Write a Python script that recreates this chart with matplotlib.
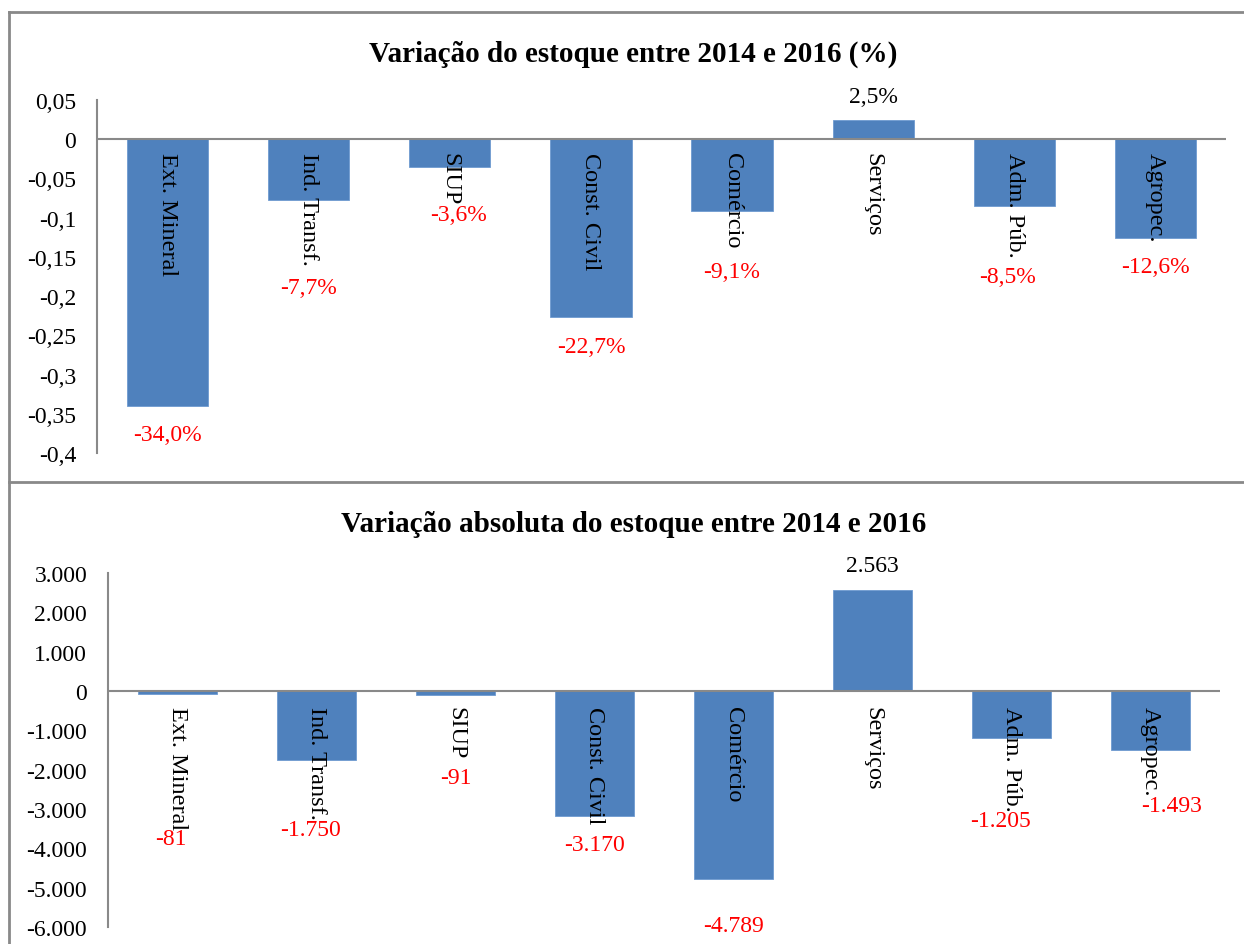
import matplotlib.pyplot as plt
from matplotlib.lines import Line2D

# categorias (setores)
setores = ['Ext. Mineral', 'Ind. Transf.', 'SIUP', 'Const. Civil',
           'Comércio', 'Serviços', 'Adm. Púb.', 'Agropec.']

# variação percentual do estoque 2014-2016
var_pct = [-0.340, -0.077, -0.036, -0.227, -0.091, 0.025, -0.085, -0.126]
rot_pct = ['-34,0%', '-7,7%', '-3,6%', '-22,7%', '-9,1%', '2,5%', '-8,5%', '-12,6%']

# variação absoluta do estoque 2014-2016
var_abs = [-81, -1750, -91, -3170, -4789, 2563, -1205, -1493]
rot_abs = ['-81', '-1.750', '-91', '-3.170', '-4.789', '2.563', '-1.205', '-1.493']

# posição dos rótulos (como no gráfico original, ajustados à mão)
pos_pct = [-0.376, -0.189, -0.096, -0.264, -0.168, 0.055, -0.175, -0.162]
dx_pct = [0.0, 0.0, 0.06, 0.0, 0.0, 0.0, -0.05, 0.0]
pos_abs = [-3740, -3520, -2190, -3900, -5960, 3180, -3300, -2920]
dx_abs = [-0.05, -0.04, 0.0, 0.0, 0.0, 0.0, -0.08, 0.15]

AZUL = '#4F81BD'
CINZA = '#898989'
plt.rcParams['font.family'] = 'Liberation Serif'

fig = plt.figure(figsize=(12.44, 9.45), dpi=100)

# molduras dos dois painéis
fig.add_artist(Line2D([9/1244, 9/1244], [0, 1 - 13/945], color=CINZA, lw=2))
fig.add_artist(Line2D([9/1244, 1], [1 - 13/945, 1 - 13/945], color=CINZA, lw=2))
fig.add_artist(Line2D([9/1244, 1], [1 - 483/945, 1 - 483/945], color=CINZA, lw=2))


def painel(rect, valores, rotulos, pos_rot, dx, ylim, ticks, ticklabels, titulo, y_titulo, gap):
    ax = fig.add_axes(rect)
    x = range(len(setores))
    ax.bar(x, valores, width=0.575, color=AZUL, edgecolor='#6f9bd0', linewidth=0.6, zorder=2)
    ax.axhline(0, color=CINZA, lw=1.5, zorder=3)
    ax.set_xlim(-0.5, len(setores) - 0.5)
    ax.set_ylim(*ylim)
    ax.set_yticks(ticks)
    ax.set_yticklabels(ticklabels, fontsize=17)
    ax.tick_params(axis='y', length=0, pad=15)
    ax.set_xticks([])
    for s in ['top', 'right', 'bottom']:
        ax.spines[s].set_visible(False)
    ax.spines['left'].set_color(CINZA)
    ax.spines['left'].set_linewidth(1.5)
    for i, nome in enumerate(setores):
        ax.annotate(nome, (i, 0), xytext=(0, -gap), textcoords='offset points',
                    rotation=270, ha='center', va='top', fontsize=17.5, zorder=4)
    for i, (v, r, p) in enumerate(zip(valores, rotulos, pos_rot)):
        cor = 'black' if v > 0 else 'red'
        ax.text(i + dx[i], p, r, ha='center', va='center', fontsize=17, color=cor)
    fig.text(0.509, y_titulo, titulo, ha='center', va='center',
             fontsize=21, fontweight='bold')
    return ax


painel([97/1244, 1 - 454/945, (1226 - 97)/1244, (454 - 101)/945],
       var_pct, rot_pct, pos_pct, dx_pct, (-0.4, 0.05),
       [0.05, 0, -0.05, -0.1, -0.15, -0.2, -0.25, -0.3, -0.35, -0.4],
       ['0,05', '0', '-0,05', '-0,1', '-0,15', '-0,2', '-0,25', '-0,3', '-0,35', '-0,4'],
       'Variação do estoque entre 2014 e 2016 (%)', 1 - 54/945, 9)

painel([108/1244, 1 - 928/945, (1220 - 108)/1244, (928 - 574)/945],
       var_abs, rot_abs, pos_abs, dx_abs, (-6000, 3000),
       [3000, 2000, 1000, 0, -1000, -2000, -3000, -4000, -5000, -6000],
       ['3.000', '2.000', '1.000', '0', '-1.000', '-2.000', '-3.000', '-4.000', '-5.000', '-6.000'],
       'Variação absoluta do estoque entre 2014 e 2016', 1 - 524/945, 11)

fig.savefig('out.png', dpi=100)
